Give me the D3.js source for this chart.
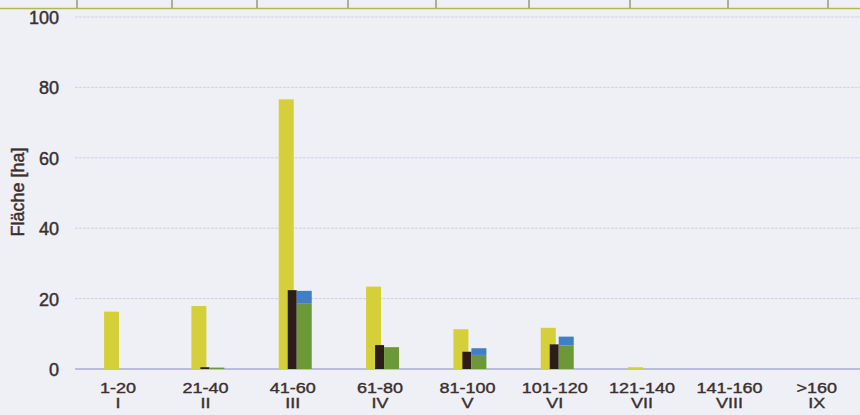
<!DOCTYPE html>
<html>
<head>
<meta charset="utf-8">
<script src="https://cdn.jsdelivr.net/npm/d3@7"></script>
<style>
  body { margin: 0; background: #eff0f5; }
  svg { display: block; }
  text { font-family: "Liberation Sans", Arial, sans-serif; fill: #3a2f2f; stroke: #3a2f2f; stroke-width: 0.45px; }
</style>
</head>
<body>
<div id="graph"></div>
<script>
// data
const classes = ["1-20", "21-40", "41-60", "61-80", "81-100", "101-120", "121-140", "141-160", ">160"];
const roman = ["I", "II", "III", "IV", "V", "VI", "VII", "VIII", "IX"];
const yellowVals = [16.3, 17.9, 76.6, 23.4, 11.3, 11.7, 0.5, 0, 0];
const darkVals = [0, 0.5, 22.4, 6.8, 4.9, 7.0, 0, 0, 0];
const greenVals = [0, 0.4, 18.7, 6.2, 4.0, 6.7, 0, 0, 0];
const blueVals = [0, 0, 3.5, 0, 1.9, 2.5, 0, 0, 0];
const yTicks = [0, 20, 40, 60, 80, 100];
const tableCols = [77, 172, 257, 348, 436, 529, 630, 728, 828];

const fullWidth = 860;
const fullHeight = 415;

var svg = d3.select("#graph")
	.append("svg")
	.attr("width", fullWidth)
	.attr("height", fullHeight);

// bit of the table above the chart
svg.append("g").selectAll("line")
	.data(tableCols)
	.enter().append("line")
	.attr("x1", d => d).attr("x2", d => d)
	.attr("y1", 0).attr("y2", 8)
	.attr("stroke", "#6b6a4a").attr("stroke-width", 1);
svg.append("line")
	.attr("x1", 0).attr("x2", fullWidth)
	.attr("y1", 8.5).attr("y2", 8.5)
	.attr("stroke", "#b4b84c").attr("stroke-width", 1.6);

var x = d3.scaleBand()
	.domain(classes)
	.range([74.4, 860.4])
	.padding(0);

var y = d3.scaleLinear()
	.domain([0, 100])
	.range([369, 17]);

// grid
svg.append("g").selectAll("line")
	.data(yTicks)
	.enter().append("line")
	.attr("x1", 75).attr("x2", fullWidth)
	.attr("y1", d => y(d)).attr("y2", d => y(d))
	.attr("stroke", d => d === 0 ? "#a9addb" : "#cdd0ea")
	.attr("stroke-width", d => d === 0 ? 1.3 : 1)
	.attr("stroke-dasharray", d => d === 0 ? null : "3,1");

// y axis labels
var yAxis = d3.axisLeft(y).tickValues(yTicks).tickSize(0).tickPadding(0);
var ya = svg.append("g")
	.attr("transform", "translate(59,0)")
	.call(yAxis);
ya.select(".domain").remove();
ya.selectAll("text")
	.style("font-size", "18px")
	.style("font-family", "Liberation Sans, Arial, sans-serif")
	.attr("fill", "#3a2f2f")
	.attr("dy", "0.36em");

svg.append("text")
	.text("Fläche [ha]")
	.attr("transform", "translate(24,192) rotate(-90)")
	.style("text-anchor", "middle")
	.style("font-size", "18px");

// bars: offsets relative to band centre
const cx = d => x(d) + x.bandwidth() / 2;

svg.append("g").selectAll("rect")
	.data(classes)
	.enter().append("rect")
	.attr("x", d => cx(d) - 14)
	.attr("width", 15)
	.attr("y", (d, i) => y(yellowVals[i]))
	.attr("height", (d, i) => y(0) - y(yellowVals[i]))
	.attr("fill", "#d5cf3a");

svg.append("g").selectAll("rect")
	.data(classes)
	.enter().append("rect")
	.attr("x", d => cx(d) - 5)
	.attr("width", 9)
	.attr("y", (d, i) => y(darkVals[i]))
	.attr("height", (d, i) => y(0) - y(darkVals[i]))
	.attr("fill", "#2d1d19");

svg.append("g").selectAll("rect")
	.data(classes)
	.enter().append("rect")
	.attr("x", d => cx(d) + 4)
	.attr("width", 15)
	.attr("y", (d, i) => y(greenVals[i]))
	.attr("height", (d, i) => y(0) - y(greenVals[i]))
	.attr("fill", "#6c9838");

svg.append("g").selectAll("rect")
	.data(classes)
	.enter().append("rect")
	.attr("x", d => cx(d) + 4)
	.attr("width", 15)
	.attr("y", (d, i) => y(greenVals[i] + blueVals[i]))
	.attr("height", (d, i) => y(greenVals[i]) - y(greenVals[i] + blueVals[i]))
	.attr("fill", "#3f7fc2");

// x labels, two lines (scan squashes them a little vertically)
var xl = svg.append("g").selectAll("text")
	.data(classes)
	.enter().append("text")
	.attr("transform", d => "translate(" + cx(d) + ",393) scale(1,0.86)")
	.style("text-anchor", "middle")
	.style("font-size", "18px");
xl.append("tspan").attr("x", 0).text(d => d);
xl.append("tspan").attr("x", 0).attr("dy", 17.5).text((d, i) => roman[i]);
</script>
</body>
</html>
